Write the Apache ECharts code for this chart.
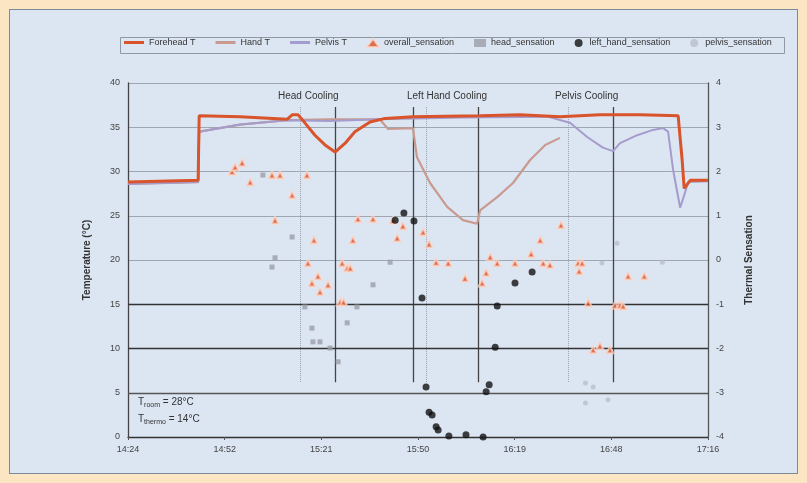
<!DOCTYPE html>
<html>
<head>
<meta charset="utf-8">
<script src="https://cdn.jsdelivr.net/npm/echarts@6/dist/echarts.min.js"></script>
<style>
html,body{margin:0;padding:0;background:#FCE5C3;}
#panel{position:absolute;left:9px;top:9px;width:787px;height:463px;background:#DCE6F2;border:1px solid #7d8a99;}
#chart{position:absolute;left:0;top:0;width:807px;height:483px;}
</style>
</head>
<body>
<div id="panel"></div>
<div id="chart"></div>
<script>
// time in minutes after 14:24, temperature in °C
const foreheadT = [[0,28.8],[20.9,29.0],[21.2,36.3],[33.4,36.2],[47.4,35.9],[48.9,36.4],[50.7,36.4],[52.7,35.5],[55.7,34.1],[58.7,33.0],[61.7,32.2],[64.7,33.2],[67.6,34.5],[72.1,35.6],[76.6,36.0],[84.9,36.2],[104.9,36.3],[116.8,36.4],[128.7,36.2],[140.6,36.4],[152.6,36.4],[163.9,36.3],[165.1,31.3],[165.7,28.1],[167.5,29.0],[172.8,29.0]];
const handT = [[0,28.6],[20.9,28.8],[21.2,34.5],[33.4,35.3],[47.4,35.8],[60,35.9],[75,35.9],[77.5,34.8],[84.9,34.9],[86.1,31.6],[90.0,28.7],[95.1,26.0],[99.8,24.5],[104.0,24.1],[104.9,25.6],[110.0,27.1],[114.7,28.7],[119.8,31.3],[124.3,33.0],[128.7,33.8]];
const pelvisT = [[0,28.6],[20.9,28.8],[21.2,34.5],[33.4,35.3],[47.4,35.8],[60,35.7],[75,35.9],[100,36.1],[125,36.2],[131.7,35.5],[136.8,33.9],[141.5,32.7],[144.5,32.3],[146.6,33.2],[151.7,34.1],[156.4,34.7],[159.4,34.9],[160.9,34.5],[162.4,30.2],[164.5,25.9],[165.7,27.3],[166.9,28.8],[172.8,28.9]];
// sensation values (right axis)
const overallSensation = [[31.0,2.0],[31.9,2.1],[34.0,2.2],[36.4,1.76],[42.9,1.92],[45.3,1.92],[53.3,1.92],[48.9,1.47],[43.8,0.9],[55.4,0.45],[53.6,-0.07],[56.6,-0.36],[54.8,-0.52],[59.6,-0.56],[57.2,-0.72],[63.8,-0.07],[65.3,-0.18],[66.2,-0.18],[63.2,-0.95],[64.2,-0.95],[68.5,0.93],[73.0,0.93],[67.0,0.45],[79.0,0.9],[80.2,0.5],[81.9,0.77],[87.9,0.63],[89.7,0.36],[91.8,-0.05],[95.4,-0.07],[100.4,-0.41],[105.5,-0.52],[106.7,-0.29],[107.9,0.07],[110.0,-0.07],[115.3,-0.07],[120.1,0.14],[122.8,0.45],[123.7,-0.07],[125.7,-0.11],[129.0,0.79],[134.1,-0.07],[135.3,-0.07],[134.4,-0.25],[137.1,-0.97],[145.1,-1.02],[146.6,-1.02],[147.5,-1.04],[149.0,-0.36],[153.8,-0.36],[138.6,-2.03],[140.6,-1.94],[143.6,-2.03]];
const headSensation = [[40.2,1.92],[43.8,0.05],[42.9,-0.16],[48.9,0.52],[73.0,-0.56],[78.1,-0.05],[52.7,-1.06],[54.8,-1.54],[55.1,-1.85],[57.2,-1.85],[60.2,-1.99],[68.2,-1.06],[65.3,-1.42],[62.6,-2.3]];
const leftHandSensation = [[79.6,0.9],[82.2,1.06],[85.2,0.88],[87.6,-0.86],[88.8,-2.87],[89.7,-3.44],[90.6,-3.5],[91.8,-3.77],[92.4,-3.84],[95.6,-3.98],[100.7,-3.95],[105.8,-4.0],[106.7,-2.98],[107.6,-2.82],[109.4,-1.97],[110.0,-1.04],[115.3,-0.52],[120.4,-0.27]];
const pelvisSensation = [[145.7,0.38],[159.2,-0.05],[141.2,-0.07],[136.3,-2.78],[138.6,-2.87],[136.3,-3.23],[143.0,-3.16]];
// event markers (minutes after 14:24)
const solidEventLines = [61.7, 84.9, 104.3, 144.5];
const dottedEventLines = [51.3, 88.8, 131.1];
const darkHLines = [15, 10, 5];
const startMinutes = 864; // 14:24
const lineNames = ['Forehead T','Hand T','Pelvis T'];
const scatterNames = ['overall_sensation','head_sensation','left_hand_sensation','pelvis_sensation'];

function fmtTime(v){
  const t = startMinutes + v + 1e-6;
  const h = Math.floor(t/60), m = Math.floor(t%60);
  return h + ':' + (m<10?'0':'') + m;
}

const chart = echarts.init(document.getElementById('chart'));
const markLineData = [];
solidEventLines.forEach(x=>markLineData.push([{coord:[x,37.3],lineStyle:{color:'#444',width:1.3,type:'solid'}},{coord:[x,6.2]}]));
dottedEventLines.forEach(x=>markLineData.push([{coord:[x,37.3],lineStyle:{color:'#9aa2b0',width:1,type:'dotted'}},{coord:[x,6.2]}]));
darkHLines.forEach((y,i)=>markLineData.push([{coord:[0,y],lineStyle:{color:i===2?'#555':'#333',width:1.3,type:'solid'}},{coord:[172.8,y]}]));

const legendText = {fontSize:9, color:'#333', fontFamily:'Liberation Sans'};
chart.setOption({
  backgroundColor:'transparent',
  animation:false,
  legend:[
    {left:124, top:38, icon:'rect', itemWidth:20, itemHeight:3, itemGap:20, padding:0,
     textStyle:legendText, data:lineNames},
    {left:366, top:38, itemWidth:12, itemHeight:8, itemGap:20, padding:0,
     textStyle:legendText, data:scatterNames}
  ],
  grid:{left:128, right:99, top:83, bottom:46},
  xAxis:{type:'value', min:0, max:172.8, interval:28.8,
    axisLine:{lineStyle:{color:'#333', width:1.3}},
    axisTick:{show:true, length:3, lineStyle:{color:'#555'}},
    axisLabel:{formatter:fmtTime, fontSize:9, color:'#444', fontFamily:'Liberation Sans', margin:8},
    splitLine:{show:false}},
  yAxis:[
    {type:'value', min:0, max:40, interval:5, name:'Temperature (°C)', nameLocation:'middle', nameGap:36, nameRotate:90,
     nameTextStyle:{fontSize:10, fontWeight:'bold', color:'#333', fontFamily:'Liberation Sans'},
     axisLine:{show:true, lineStyle:{color:'#444', width:1.3}},
     axisTick:{show:false},
     axisLabel:{fontSize:9, color:'#444', fontFamily:'Liberation Sans', margin:8},
     splitLine:{lineStyle:{color:'#9ea7b2', width:1}}},
    {type:'value', min:-4, max:4, interval:1, name:'Thermal Sensation', nameLocation:'middle', nameGap:36, nameRotate:90,
     nameTextStyle:{fontSize:10, fontWeight:'bold', color:'#333', fontFamily:'Liberation Sans'},
     axisLine:{show:true, lineStyle:{color:'#555', width:1.3}},
     axisTick:{show:false},
     axisLabel:{fontSize:9, color:'#444', fontFamily:'Liberation Sans', margin:8},
     splitLine:{show:false}}
  ],
  series:[
    {name:'Hand T', type:'line', data:handT, symbol:'none', z:3,
     lineStyle:{color:'#C99A90', width:2.2}, itemStyle:{color:'#C99A90'}},
    {name:'Pelvis T', type:'line', data:pelvisT, symbol:'none', z:3,
     lineStyle:{color:'#A49CCC', width:2}, itemStyle:{color:'#A49CCC'}},
    {name:'Forehead T', type:'line', data:foreheadT, symbol:'none', z:4,
     lineStyle:{color:'#D9532B', width:3}, itemStyle:{color:'#D9532B'},
     markLine:{symbol:'none', silent:true, label:{show:false}, data:markLineData, z:1}},
    {name:'overall_sensation', type:'scatter', yAxisIndex:1, data:overallSensation, symbol:'triangle', symbolSize:7, z:5,
     itemStyle:{color:'#D9532B', borderColor:'rgba(255,215,200,0.9)', borderWidth:2}},
    {name:'head_sensation', type:'scatter', yAxisIndex:1, data:headSensation, symbol:'rect', symbolSize:5, z:5,
     itemStyle:{color:'#9a9ea6'}},
    {name:'left_hand_sensation', type:'scatter', yAxisIndex:1, data:leftHandSensation, symbol:'circle', symbolSize:7, z:6,
     itemStyle:{color:'#111'}},
    {name:'pelvis_sensation', type:'scatter', yAxisIndex:1, data:pelvisSensation, symbol:'circle', symbolSize:5, z:5,
     itemStyle:{color:'#b9bfca'}}
  ],
  graphic:[
    {type:'rect', left:118, top:35, shape:{width:664, height:16}, style:{fill:'none', stroke:'#8f98a3', lineWidth:1}, silent:true},
    {type:'text', left:278, top:91, style:{text:'Head Cooling', fontSize:10, fill:'#333', fontFamily:'Liberation Sans'}},
    {type:'text', left:407, top:91, style:{text:'Left Hand Cooling', fontSize:10, fill:'#333', fontFamily:'Liberation Sans'}},
    {type:'text', left:555, top:91, style:{text:'Pelvis Cooling', fontSize:10, fill:'#333', fontFamily:'Liberation Sans'}},
    {type:'text', left:138, top:397, style:{text:'{t|T}{s|room}{t| = 28°C}', rich:{t:{fontSize:10, fill:'#333', fontFamily:'Liberation Sans'}, s:{fontSize:7, fill:'#333', padding:[6,0,0,0], fontFamily:'Liberation Sans'}}}},
    {type:'text', left:138, top:414, style:{text:'{t|T}{s|thermo}{t| = 14°C}', rich:{t:{fontSize:10, fill:'#333', fontFamily:'Liberation Sans'}, s:{fontSize:7, fill:'#333', padding:[6,0,0,0], fontFamily:'Liberation Sans'}}}}
  ]
});
</script>
</body>
</html>
